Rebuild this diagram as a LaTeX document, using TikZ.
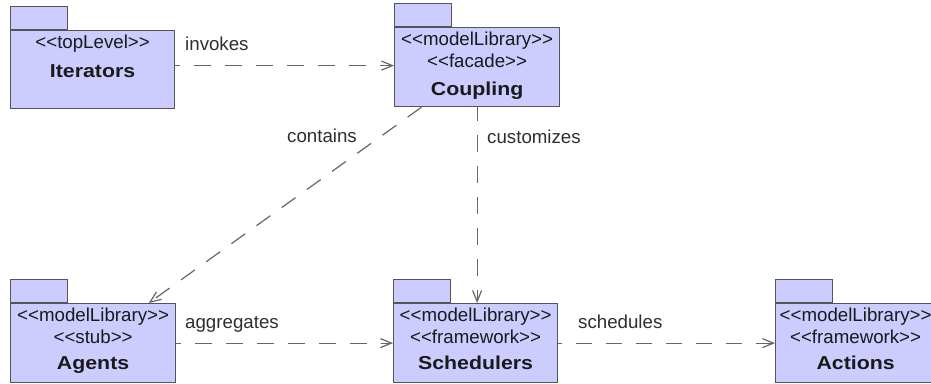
\documentclass[tikz,border=0pt]{standalone}
\usepackage{fontspec}
\usetikzlibrary{arrows.meta,calc}
\newfontfamily\pkgsans{Liberation Sans}
\newfontfamily\pkgsanswide{Liberation Sans}[FakeStretch=1.14]
\definecolor{pkgfill}{HTML}{CCCCFF}
\definecolor{pkgline}{HTML}{555555}
\definecolor{depline}{HTML}{666666}
\definecolor{pkgtext}{HTML}{1A1A1A}
\definecolor{deptext}{HTML}{2E2E2E}
\tikzset{
  pkgbody/.style={draw=pkgline, fill=pkgfill, line width=1.2pt, rectangle,
    inner sep=0pt, minimum width=165pt, minimum height=79pt, anchor=north west},
  pkgtab/.style={draw=pkgline, fill=pkgfill, line width=1.2pt, rectangle,
    inner sep=0pt, minimum width=57pt, minimum height=23pt, anchor=south west},
  stereo/.style={font={\pkgsans\fontsize{18.7pt}{20pt}\selectfont},
    text=pkgtext, anchor=base, inner sep=0pt},
  pkgname/.style={font={\pkgsanswide\bfseries\fontsize{18.7pt}{20pt}\selectfont},
    text=pkgtext, anchor=base, inner sep=0pt},
  dep/.style={draw=depline, line width=1.2pt, dash pattern=on 17pt off 14pt,
    dash phase=12pt, -{Straight Barb[length=11pt,width=9pt,line width=1.2pt]}},
  deplabel/.style={font={\pkgsans\fontsize{18.7pt}{20pt}\selectfont},
    text=deptext, anchor=base west, inner sep=0pt},
}
\begin{document}
\begin{tikzpicture}[x=1pt,y=-1pt]
\useasboundingbox (0,0) rectangle (931,383);

% Iterators
\node[pkgtab] (iterTab) at (10,30) {};
\node[pkgbody, minimum width=164pt, minimum height=78pt] (iter) at (10,30) {};
\node[stereo] (iterS) at ($(iter.north)+(0,18)$) {<{}<topLevel>{}>};
\node[pkgname] (iterN) at ($(iter.north)+(0,47)$) {Iterators};

% Coupling
\node[pkgtab] (coupTab) at (394,27) {};
\node[pkgbody] (coup) at (394,27) {};
\node[stereo] (coupS1) at ($(coup.north)+(0,18.5)$) {<{}<modelLibrary>{}>};
\node[stereo] (coupS2) at ($(coup.north)+(0,40)$) {<{}<facade>{}>};
\node[pkgname] (coupN) at ($(coup.north)+(0,68)$) {Coupling};

% Agents
\node[pkgtab] (agTab) at (10,303) {};
\node[pkgbody] (ag) at (10,303) {};
\node[stereo] (agS1) at ($(ag.north)+(0,18.5)$) {<{}<modelLibrary>{}>};
\node[stereo] (agS2) at ($(ag.north)+(0,40)$) {<{}<stub>{}>};
\node[pkgname] (agN) at ($(ag.north)+(0,66.5)$) {Agents};

% Schedulers
\node[pkgtab] (schTab) at (393,303) {};
\node[pkgbody, minimum width=164pt] (sch) at (393,303) {};
\node[stereo] (schS1) at ($(sch.north)+(0,18.5)$) {<{}<modelLibrary>{}>};
\node[stereo] (schS2) at ($(sch.north)+(0,40)$) {<{}<framework>{}>};
\node[pkgname] (schN) at ($(sch.north)+(0,66.5)$) {Schedulers};

% Actions
\node[pkgtab] (actTab) at (775,303) {};
\node[pkgbody, minimum width=160pt] (act) at (775,303) {};
\node[stereo] (actS1) at ($(act.north)+(0,18.5)$) {<{}<modelLibrary>{}>};
\node[stereo] (actS2) at ($(act.north)+(0,40)$) {<{}<framework>{}>};
\node[pkgname] (actN) at ($(act.north)+(0,66.5)$) {Actions};

% Dependencies
\draw[dep] ([yshift=4pt]iter.east) -- ([yshift=1.5pt]coup.west);
\draw[dep, dash phase=0pt] (coup) -- (ag);
\draw[dep, dash phase=3pt] (coup.south) -- (coup.south |- sch.north);
\draw[dep] (ag.east) -- (sch.west);
\draw[dep, dash pattern=on 16pt off 14pt] (sch.east) -- (act.west);

% Dependency labels
\node[deplabel] (lInvokes) at (185,50.7) {invokes};
\node[deplabel] (lContains) at (287,142.7) {contains};
\node[deplabel] (lCustom) at (487,143) {customizes};
\node[deplabel] (lAggr) at (185,328) {aggregates};
\node[deplabel] (lSched) at (578,328) {schedules};
\end{tikzpicture}
\end{document}
